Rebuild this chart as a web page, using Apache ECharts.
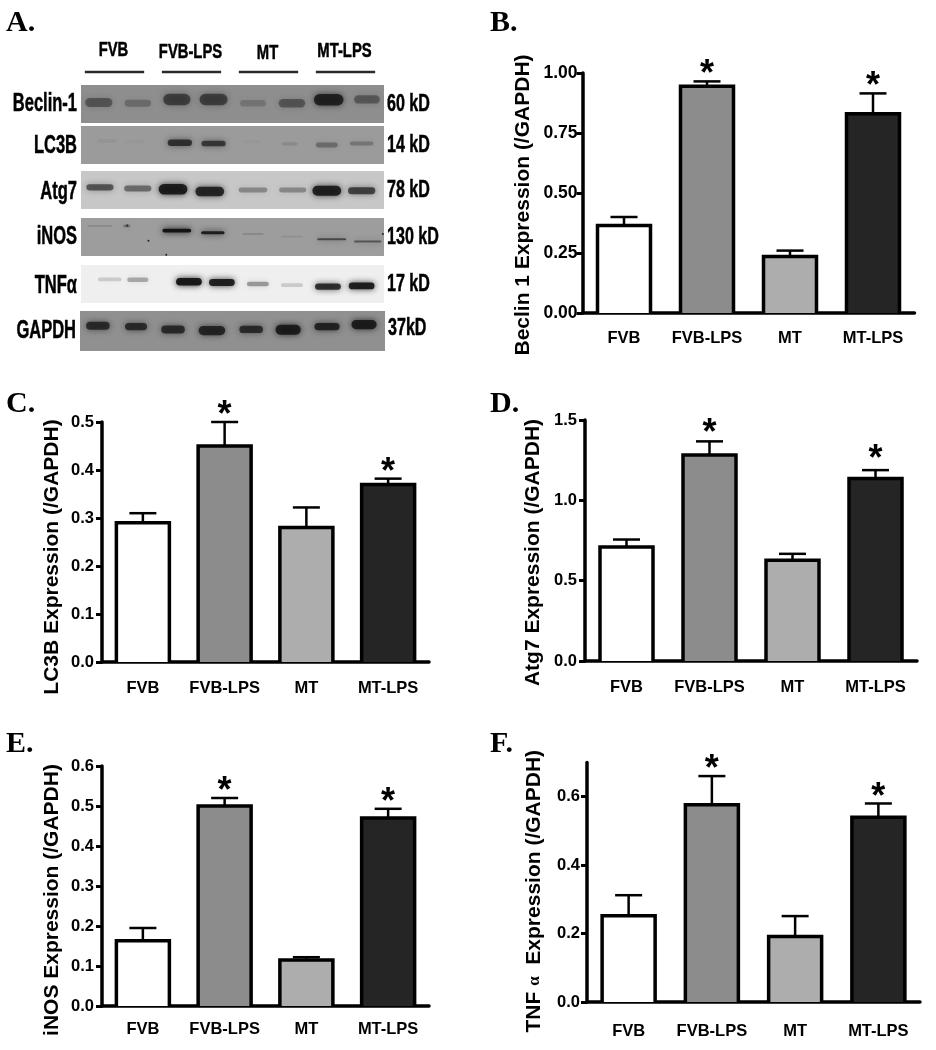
<!DOCTYPE html>
<html>
<head>
<meta charset="utf-8">
<style>html,body{margin:0;padding:0;background:#fff}#c{width:936px;height:1050px}</style>
<script src="https://cdn.jsdelivr.net/npm/echarts@6/dist/echarts.min.js"></script>
</head>
<body>
<div id="c"></div>
<script>
// ---------- bar data ----------
const groups = ['FVB', 'FVB-LPS', 'MT', 'MT-LPS'];
const barColors = ['#ffffff', '#8c8c8c', '#adadad', '#252525'];

const beclinMean = [0.365, 0.945, 0.235, 0.83];
const beclinTop  = [0.40, 0.965, 0.26, 0.915];
const beclinStar = [null, 1.02, null, 0.97];

const lc3bMean = [0.29, 0.45, 0.28, 0.37];
const lc3bTop  = [0.31, 0.50, 0.322, 0.382];
const lc3bStar = [null, 0.526, null, 0.408];

const atg7Mean = [0.71, 1.282, 0.627, 1.136];
const atg7Top  = [0.756, 1.367, 0.667, 1.188];
const atg7Star = [null, 1.454, null, 1.296];

const inosMean = [0.163, 0.50, 0.115, 0.47];
const inosTop  = [0.195, 0.52, 0.122, 0.493];
const inosStar = [null, 0.5525, null, 0.525];

const tnfMean = [0.252, 0.576, 0.191, 0.54];
const tnfTop  = [0.312, 0.66, 0.251, 0.58];
const tnfStar = [null, 0.697, null, 0.615];

// ---------- blot data: lane position, depth in the strip, ink, band width (lanes), thickness (strip fraction) ----------
const beclinLane  = [.47,1.5,2.53,3.5,4.54,5.57,6.54,7.55];
const beclinDepth = [.46,.48,.38,.38,.48,.48,.39,.38];
const beclinInk   = [.42,.26,.58,.58,.2,.42,.82,.4];
const beclinWide  = [.72,.7,.72,.74,.68,.7,.78,.68];
const beclinThick = [.24,.18,.3,.3,.17,.22,.3,.22];

const lc3bLane  = [.69,1.42,2.61,3.5,4.51,5.51,6.49,7.41];
const lc3bDepth = [.39,.41,.44,.46,.41,.47,.50,.46];
const lc3bInk   = [.05,.03,.72,.68,.03,.12,.32,.26];
const lc3bWide  = [.5,.5,.64,.64,.44,.42,.58,.62];
const lc3bThick = [.1,.08,.17,.15,.08,.09,.13,.1];

const atg7Lane  = [.5,1.5,2.43,3.4,4.54,5.59,6.49,7.41];
const atg7Depth = [.43,.46,.48,.54,.50,.50,.52,.52];
const atg7Ink   = [.58,.46,.9,.84,.32,.32,.88,.68];
const atg7Wide  = [.72,.72,.76,.76,.76,.72,.76,.72];
const atg7Thick = [.16,.16,.28,.25,.13,.13,.26,.18];

const inosLane  = [.5,1.21,2.53,3.48,4.54,5.57,6.62,7.57];
const inosDepth = [.21,.21,.33,.39,.42,.49,.56,.62];
const inosInk   = [.12,.3,1,.9,.14,.1,.6,.5];
const inosWide  = [.66,.18,.76,.62,.56,.56,.76,.72];
const inosThick = [.05,.08,.1,.08,.05,.04,.05,.05];

const tnfLane  = [.76,1.5,2.85,3.72,4.67,5.57,6.52,7.41];
const tnfDepth = [.38,.39,.44,.46,.50,.53,.57,.55];
const tnfInk   = [.16,.3,.95,.9,.36,.16,.82,.9];
const tnfWide  = [.62,.56,.68,.68,.58,.58,.68,.68];
const tnfThick = [.1,.12,.2,.18,.12,.1,.16,.18];

const gapdhLane  = [.47,1.47,2.44,3.46,4.49,5.46,6.48,7.45];
const gapdhDepth = [.37,.39,.46,.49,.46,.47,.39,.34];
const gapdhInk   = [.75,.75,.75,.8,.75,.88,.82,.88];
const gapdhWide  = [.62,.58,.62,.7,.62,.66,.66,.66];
const gapdhThick = [.2,.18,.2,.23,.18,.25,.18,.23];

// lane, depth pairs for dust specks on the iNOS strip
const inosSpecks = [[1.22,.2],[1.78,.6],[2.25,.97],[7.97,.42]];

const blotNames = ['Beclin-1', 'LC3B', 'Atg7', 'iNOS', 'TNFα', 'GAPDH'];
const blotSizes = ['60 kD', '14 kD', '78 kD', '130 kD', '17 kD', '37kD'];

// ---------- layout ----------
const F_SANS = '"Liberation Sans",Arial,sans-serif';
const F_SERIF = '"Liberation Serif",serif';

const blotStrips = [
  {top:85,  h:38, left:81, w:303, bg:'#8e8e8e', lane:beclinLane, depth:beclinDepth, ink:beclinInk, wide:beclinWide, thick:beclinThick, nameDy:0, sizeDx:3, sizeDy:0},
  {top:126, h:38, left:81, w:303, bg:'#9b9b9b', lane:lc3bLane, depth:lc3bDepth, ink:lc3bInk, wide:lc3bWide, thick:lc3bThick, nameDy:1, sizeDx:3, sizeDy:0},
  {top:171, h:38, left:81, w:303, bg:'#c7c7c7', lane:atg7Lane, depth:atg7Depth, ink:atg7Ink, wide:atg7Wide, thick:atg7Thick, nameDy:2, sizeDx:3, sizeDy:0},
  {top:218, h:38, left:81, w:303, bg:'#9d9d9d', lane:inosLane, depth:inosDepth, ink:inosInk, wide:inosWide, thick:inosThick, nameDy:0, sizeDx:3, sizeDy:0},
  {top:265, h:38, left:81, w:303, bg:'#efefef', lane:tnfLane, depth:tnfDepth, ink:tnfInk, wide:tnfWide, thick:tnfThick, nameDy:2, sizeDx:3, sizeDy:0},
  {top:311, h:40, left:80, w:305, bg:'#909090', lane:gapdhLane, depth:gapdhDepth, ink:gapdhInk, wide:gapdhWide, thick:gapdhThick, nameDy:0, sizeDx:3, sizeDy:-3}
];
const headerDy = [-2, 0, 1, -1];

const panels = [
  {left:582.5, top:73,  w:332, h:240, max:1,   step:.25, dec:2, tickFont:17.5, tickGap:5, xGap:17, mean:beclinMean, upper:beclinTop, star:beclinStar, name:'Beclin 1 Expression (/GAPDH)', shift:12, gap:49},
  {left:102, top:422, w:327, h:240, max:.5,  step:.1,  dec:1, tickFont:16.5, tickGap:8, xGap:18, mean:lc3bMean, upper:lc3bTop, star:lc3bStar, name:'LC3B Expression (/GAPDH)', shift:15, gap:39},
  {left:585, top:420, w:332, h:241, max:1.5, step:.5,  dec:1, tickFont:16.5, tickGap:8, xGap:18, mean:atg7Mean, upper:atg7Top, star:atg7Star, name:'Atg7 Expression (/GAPDH)', shift:12, gap:41},
  {left:102, top:766, w:327, h:240, max:.6,  step:.1,  dec:1, tickFont:16.5, tickGap:8, xGap:15, mean:inosMean, upper:inosTop, star:inosStar, name:'iNOS Expression (/GAPDH)', shift:14, gap:39},
  {left:587, top:762.4, w:333, h:239.6, max:.7, step:.2, dec:1, tickFont:16.5, tickGap:7, xGap:21, ticks:[0,.2,.4,.6], mean:tnfMean, upper:tnfTop, star:tnfStar, name:'TNF {a|α}  Expression (/GAPDH)', shift:9, gap:42}
];

const letters = [['A.',6,8],['B.',490,8],['C.',6,389],['D.',490,389],['E.',6,729],['F.',490,729]];

// ---------- build ----------
const grid = [], xAxis = [], yAxis = [], series = [];

function bandItem(params, api) {
  const c = api.coord([api.value(0), api.value(1)]);
  const s = api.size([api.value(3), api.value(4)]);
  const ink = api.value(2);
  const h = Math.max(s[1],1.5);
  return {type:'rect', shape:{x:c[0]-s[0]/2, y:c[1]-h/2, width:s[0], height:h, r:h/2},
    style:{fill:'rgba(20,20,20,'+ink+')', shadowBlur:6, shadowColor:'rgba(20,20,20,'+ink+')'}};
}
function speckItem(params, api) {
  const c = api.coord([api.value(0), api.value(1)]);
  return {type:'circle', shape:{cx:c[0], cy:c[1], r:1}, style:{fill:'#222'}};
}
function squeezed(text, x, y, align, size, sx) {
  return {type:'text', x:x, y:y, scaleX:sx, scaleY:1,
    style:{text:text, x:0, y:0, align:align, verticalAlign:'middle', font:'bold '+size+'px '+F_SANS, fill:'#000', stroke:'#000', lineWidth:.5}};
}

blotStrips.forEach((b, i) => {
  const g = grid.length;
  grid.push({outerBoundsMode:'none', left:b.left, top:b.top, width:b.w, height:b.h, show:true, backgroundColor:b.bg, borderWidth:0});
  xAxis.push({gridIndex:g, type:'value', min:0, max:8, show:false});
  yAxis.push({gridIndex:g, type:'value', min:0, max:1, inverse:true, show:false});
  series.push({type:'custom', xAxisIndex:g, yAxisIndex:g, renderItem:bandItem, silent:true, animation:false, clip:true,
    encode:{x:0,y:1}, data:b.lane.map((l,k)=>[l,b.depth[k],b.ink[k],b.wide[k],b.thick[k]])});
  if (i === 3) series.push({type:'custom', xAxisIndex:g, yAxisIndex:g, renderItem:speckItem, silent:true, animation:false, encode:{x:0,y:1}, data:inosSpecks});
  // strip name on the left, molecular weight on the right
  series.push({type:'custom', xAxisIndex:g, yAxisIndex:g, silent:true, animation:false, clip:false, encode:{x:0,y:1},
    data:[[0,.5]],
    renderItem(params, api){
      const l = api.coord([0,.5]), r = api.coord([8,.5]);
      return {type:'group', children:[
        squeezed(blotNames[i], l[0]-4, l[1]+b.nameDy, 'right', 25, .66),
        squeezed(blotSizes[i], r[0]+b.sizeDx, r[1]+b.sizeDy, 'left', 24, .67)
      ]};
    }});
});

// header over the blot
{
  const g = grid.length;
  grid.push({outerBoundsMode:'none', left:76, top:72, width:308, height:1});
  xAxis.push({gridIndex:g, type:'category', data:groups, show:false});
  yAxis.push({gridIndex:g, type:'value', min:0, max:1, show:false});
  series.push({type:'custom', xAxisIndex:g, yAxisIndex:g, silent:true, animation:false, clip:false, encode:{x:0,y:1},
    data:groups.map((_,k)=>[k,1]),
    renderItem(params, api){
      const k = api.value(0);
      const c = api.coord([k,1]);
      const w = api.size([1,0])[0]*0.77;
      return {type:'group', children:[
        {type:'line', shape:{x1:c[0]-w/2,y1:c[1],x2:c[0]+w/2,y2:c[1]}, style:{stroke:'#2a2a2a',lineWidth:2.5}},
        squeezed(groups[k], c[0]-1, c[1]-20+headerDy[k], 'center', 20, .74)
      ]};
    }});
}

panels.forEach(p => {
  const g = grid.length;
  const barW = 53;
  grid.push({outerBoundsMode:'none', left:p.left, top:p.top, width:p.w, height:p.h});
  xAxis.push({gridIndex:g, type:'category', data:groups,
    axisLine:{lineStyle:{color:'#000',width:3.5}}, axisTick:{alignWithLabel:true, length:7, lineStyle:{color:'#000',width:3}},
    axisLabel:{interval:0, margin:p.xGap, fontFamily:F_SANS, fontWeight:'bold', fontSize:16.5, color:'#000'}});
  const y = {gridIndex:g, type:'value', min:0, max:p.max, interval:p.step, splitLine:{show:false},
    axisLine:{show:true, lineStyle:{color:'#000',width:3.5}}, axisTick:{show:true, length:6, lineStyle:{color:'#000',width:3}},
    axisLabel:{margin:p.tickGap, fontFamily:F_SANS, fontWeight:'bold', fontSize:p.tickFont, color:'#000', formatter:v=>v.toFixed(p.dec)},
    name:p.name, nameLocation:'middle', nameGap:p.gap,
    nameTextStyle:{fontFamily:F_SANS, fontWeight:'bold', fontSize:21, color:'#000', padding:[0,p.shift*2,0,0],
      rich:{a:{fontFamily:F_SERIF, fontWeight:'bold', fontSize:17, color:'#000'}}}};
  if (p.ticks) { y.axisTick.customValues = p.ticks; y.axisLabel.customValues = p.ticks; }
  yAxis.push(y);
  const yi = yAxis.length-1;
  // error bars
  series.push({type:'custom', xAxisIndex:g, yAxisIndex:yi, z:1, silent:true, animation:false, encode:{x:0,y:[1,2]},
    data:p.mean.map((m,k)=>[k,m,p.upper[k]]),
    renderItem(params, api){
      const a = api.coord([api.value(0),api.value(1)]);
      const b = api.coord([api.value(0),api.value(2)]);
      const capW = 13.5;
      return {type:'group', children:[
        {type:'line', shape:{x1:a[0],y1:a[1],x2:b[0],y2:b[1]}, style:{stroke:'#000',lineWidth:2.5}},
        {type:'line', shape:{x1:b[0]-capW,y1:b[1],x2:b[0]+capW,y2:b[1]}, style:{stroke:'#000',lineWidth:2.5}}
      ]};
    }});
  // bar fill
  series.push({type:'bar', xAxisIndex:g, yAxisIndex:yi, z:2, barWidth:barW, silent:true, animation:false,
    data:p.mean.map((m,k)=>({value:m, itemStyle:{color:barColors[k], borderWidth:0}}))});
  // bar outline, open at the baseline so the axis line is the only rule there
  series.push({type:'custom', xAxisIndex:g, yAxisIndex:yi, z:3, silent:true, animation:false, clip:false, encode:{x:0,y:1},
    data:p.mean.map((m,k)=>[k,m]),
    renderItem(params, api){
      const t = api.coord([api.value(0),api.value(1)]);
      const o = api.coord([api.value(0),0]);
      const h = barW/2;
      return {type:'polyline', shape:{points:[[t[0]-h,o[1]],[t[0]-h,t[1]],[t[0]+h,t[1]],[t[0]+h,o[1]]]},
        style:{stroke:'#000', fill:null, lineWidth:3.5, lineJoin:'miter'}};
    }});
  // asterisks
  series.push({type:'custom', xAxisIndex:g, yAxisIndex:yi, z:4, silent:true, animation:false, clip:false, encode:{x:0,y:1},
    data:p.star.map((s,k)=>s==null?null:[k,s]).filter(Boolean),
    renderItem(params, api){
      const c = api.coord([api.value(0),api.value(1)]);
      return {type:'text', style:{text:'*', x:c[0], y:c[1]+7, align:'center', verticalAlign:'middle',
        font:'bold 36px '+F_SANS, fill:'#000'}};
    }});
});

const chart = echarts.init(document.getElementById('c'), null, {renderer:'canvas', width:936, height:1050});
chart.setOption({
  animation:false,
  backgroundColor:'#fff',
  title:letters.map(l=>({text:l[0], left:l[1], top:l[2], padding:0, textStyle:{fontFamily:F_SERIF, fontWeight:'bold', fontSize:30, color:'#000'}})),
  grid, xAxis, yAxis, series
});
</script>
</body>
</html>
